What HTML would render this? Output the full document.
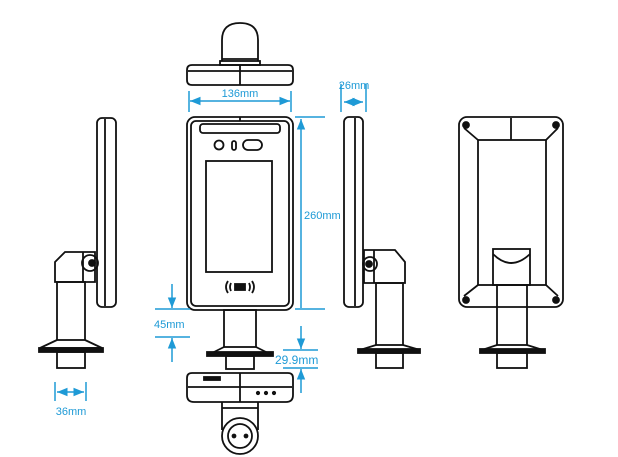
<!DOCTYPE html>
<html><head><meta charset="utf-8"><style>
html,body{margin:0;padding:0;background:#fff;width:618px;height:457px;overflow:hidden}
svg{display:block}
text{font-family:"Liberation Sans",sans-serif;fill:#1e9ad6;font-size:11px}
</style></head><body>
<svg width="618" height="457" viewBox="0 0 618 457" xmlns="http://www.w3.org/2000/svg">
<defs>
<marker id="a" viewBox="0 0 10 10" refX="10" refY="5" markerWidth="7" markerHeight="7" orient="auto-start-reverse"><path d="M0,1 L10,5 L0,9 z" fill="#1e9ad6"/></marker>
</defs>
<g fill="none" stroke="#111" stroke-width="1.8">
<!-- top view -->
<path d="M222,61 V40 Q222,23 240,23 Q258,23 258,40 V61"/>
<line x1="222" y1="59" x2="258" y2="59"/>
<rect x="220" y="61" width="40" height="4"/>
<path d="M192,65 H288 Q293,65 293,70 V80 Q293,85 288,85 H192 Q187,85 187,80 V70 Q187,65 192,65 Z"/>
<line x1="240" y1="65" x2="240" y2="85"/>
<line x1="188" y1="71" x2="292" y2="71"/>
<!-- front -->
<rect x="187" y="117" width="106" height="193" rx="8"/>
<rect x="191" y="121" width="98" height="185" rx="5"/>
<rect x="200" y="124" width="80" height="9" rx="3"/>
<line x1="240" y1="117" x2="240" y2="121"/>
<circle cx="219" cy="145" r="4.5"/>
<rect x="232" y="141" width="4" height="9" rx="2"/>
<rect x="243" y="140" width="19" height="10" rx="5"/>
<rect x="206" y="161" width="66" height="111"/>
<path d="M228,281 Q224,287 228,293 M231,283 Q229,287 231,291 M252,281 Q256,287 252,293 M249,283 Q251,287 249,291"/>
<rect x="235" y="284" width="10" height="6" fill="#111"/>
<!-- front pole -->
<rect x="224" y="310" width="32" height="37"/>
<path d="M224,347 L208,355 H272 L256,347" />
<rect x="207" y="352" width="66" height="4" fill="#111"/>
<rect x="226" y="356" width="28" height="13"/>
<!-- bottom view -->
<path d="M192,373 H288 Q293,373 293,378 V395 Q293,402 286,402 H194 Q187,402 187,395 V378 Q187,373 192,373 Z"/>
<line x1="188" y1="387" x2="292" y2="387"/>
<line x1="240" y1="373" x2="240" y2="402"/>
<rect x="204" y="377" width="16" height="3" fill="#111"/>
<circle cx="258" cy="393" r="1.2" fill="#111"/><circle cx="266" cy="393" r="1.2" fill="#111"/><circle cx="274" cy="393" r="1.2" fill="#111"/>
<path d="M222,402 V430 M258,402 V430"/>
<line x1="222" y1="408" x2="258" y2="408"/>
<circle cx="240" cy="436" r="18"/>
<circle cx="240" cy="436" r="12"/>
<circle cx="234" cy="436" r="1.5" fill="#111"/><circle cx="246" cy="436" r="1.5" fill="#111"/>
<!-- left side -->
<rect x="97" y="118" width="19" height="189" rx="5"/>
<line x1="105" y1="119" x2="105" y2="306"/>
<path d="M55,282 V262 L65,252 H95 V282 Z"/>
<line x1="83" y1="252" x2="83" y2="282"/>
<circle cx="90" cy="263" r="8"/><circle cx="92" cy="263" r="3" fill="#111"/>
<rect x="57" y="282" width="28" height="58"/>
<path d="M57,340 L40,348 H102 L85,340"/>
<rect x="39" y="348" width="64" height="4" fill="#111"/>
<rect x="57" y="352" width="28" height="16"/>
<!-- right side -->
<rect x="344" y="117" width="19" height="190" rx="5"/>
<line x1="355" y1="118" x2="355" y2="306"/>
<path d="M364,250 H395 L405,262 V283 H364 Z"/>
<line x1="374" y1="250" x2="374" y2="283"/>
<circle cx="370" cy="264" r="7"/><circle cx="369" cy="264" r="3" fill="#111"/>
<rect x="376" y="283" width="27" height="62"/>
<path d="M376,345 L360,350 H420 L403,345"/>
<rect x="358" y="349" width="62" height="4" fill="#111"/>
<rect x="376" y="353" width="27" height="15"/>
<!-- back -->
<rect x="459" y="117" width="104" height="190" rx="8"/>
<rect x="478" y="140" width="68" height="145"/>
<line x1="511" y1="118" x2="511" y2="140"/>
<path d="M464,128 L478,140 M558,128 L546,140 M464,296 L478,285 M558,296 L546,285"/>
<circle cx="466" cy="125" r="3" fill="#111"/><circle cx="556" cy="125" r="3" fill="#111"/>
<circle cx="466" cy="300" r="3" fill="#111"/><circle cx="556" cy="300" r="3" fill="#111"/>
<rect x="493" y="249" width="37" height="36"/>
<path d="M493,254 Q511,272 530,254"/>
<rect x="497" y="285" width="30" height="60"/>
<path d="M497,345 L482,350 H543 L527,345"/>
<rect x="480" y="349" width="65" height="4" fill="#111"/>
<rect x="497" y="353" width="30" height="15"/>
</g>
<g stroke="#1e9ad6" stroke-width="1.5" fill="none">
<line x1="189" y1="91" x2="189" y2="112"/><line x1="291" y1="91" x2="291" y2="112"/>
<line x1="190" y1="101" x2="290" y2="101" marker-start="url(#a)" marker-end="url(#a)"/>
<line x1="341" y1="84" x2="341" y2="112"/><line x1="366" y1="84" x2="366" y2="112"/>
<line x1="344" y1="102" x2="363" y2="102" marker-start="url(#a)" marker-end="url(#a)"/>
<line x1="295" y1="117" x2="325" y2="117"/><line x1="295" y1="309" x2="325" y2="309"/>
<line x1="301" y1="308" x2="301" y2="119" marker-end="url(#a)"/>
<line x1="155" y1="309" x2="190" y2="309"/><line x1="155" y1="337" x2="190" y2="337"/>
<line x1="172" y1="284" x2="172" y2="308" marker-end="url(#a)"/>
<line x1="172" y1="362" x2="172" y2="338" marker-end="url(#a)"/>
<line x1="283" y1="350" x2="318" y2="350"/><line x1="283" y1="368" x2="318" y2="368"/>
<line x1="301" y1="326" x2="301" y2="349" marker-end="url(#a)"/>
<line x1="301" y1="393" x2="301" y2="369" marker-end="url(#a)"/>
<line x1="55" y1="382" x2="55" y2="401"/><line x1="86" y1="382" x2="86" y2="401"/>
<line x1="57" y1="392" x2="84" y2="392" marker-start="url(#a)" marker-end="url(#a)"/>
</g>
<text x="240" y="97" text-anchor="middle">136mm</text>
<text x="354" y="89" text-anchor="middle">26mm</text>
<text x="304" y="219">260mm</text>
<text x="154" y="328">45mm</text>
<text x="275" y="364" style="font-size:12px">29.9mm</text>
<text x="71" y="415" text-anchor="middle">36mm</text>
</svg>
</body></html>
